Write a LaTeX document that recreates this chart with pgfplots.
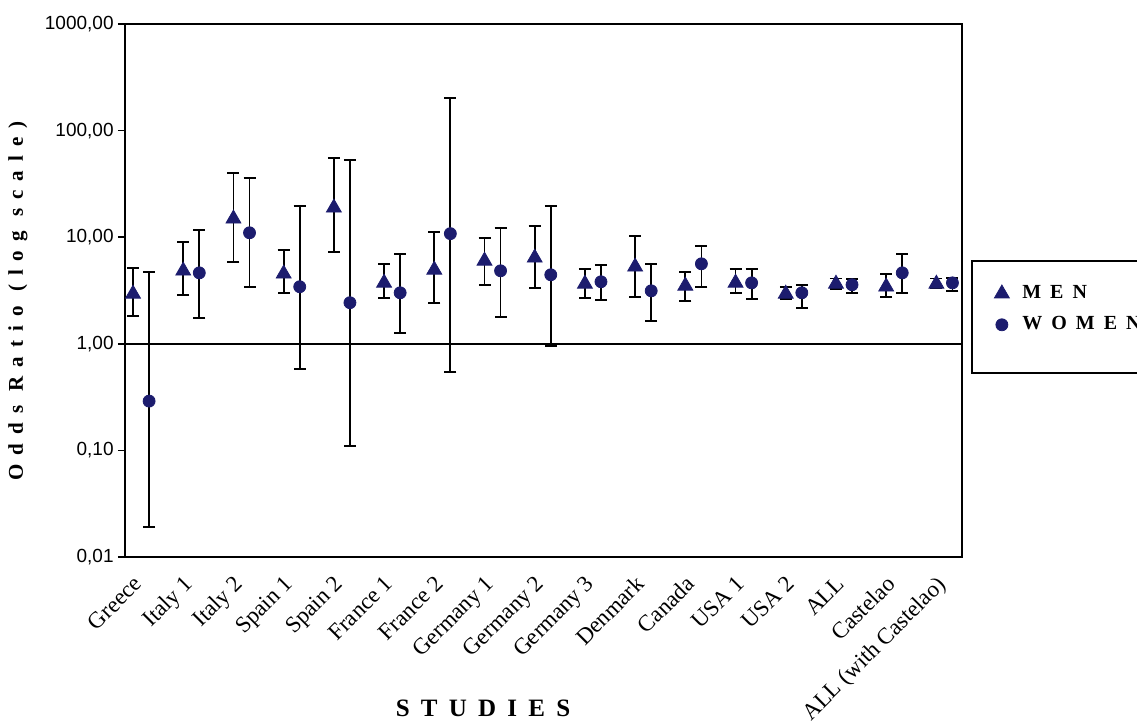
\documentclass[border=0pt]{standalone}
\usepackage{fontspec}
\usepackage{pgfplots}
\usepackage{pgfplotstable}
\pgfplotsset{compat=1.18}
\setmainfont{Liberation Serif}
\newfontfamily\ticfont{Liberation Sans}
\newfontfamily\spc[LetterSpace=45]{Liberation Serif}
\newfontfamily\spcy[LetterSpace=43]{Liberation Serif}
\definecolor{navy}{RGB}{28,28,110}

\pgfplotstableread{
x y lo hi
0 2.94 1.83 5.16
1 4.84 2.88 9.06
2 14.9 5.88 40.2
3 4.54 3.01 7.6
4 18.9 7.3 55.6
5 3.73 2.7 5.63
6 4.94 2.42 11.2
7 6.0 3.58 9.87
8 6.41 3.35 12.8
9 3.65 2.7 5.05
10 5.28 2.76 10.3
11 3.5 2.53 4.74
12 3.73 3.01 5.05
13 2.94 2.64 3.43
14 3.65 3.27 4.1
15 3.43 2.76 4.54
16 3.65 3.3 4.1
}\men

\pgfplotstableread{
x y lo hi
0.32 0.29 0.019 4.74
1.32 4.63 1.75 11.7
2.32 11.0 3.43 36
3.32 3.43 0.58 19.7
4.32 2.43 0.11 53.2
5.32 3.01 1.27 6.98
6.32 10.8 0.546 203
7.32 4.84 1.79 12.3
8.32 4.44 0.96 19.7
9.32 3.82 2.59 5.51
10.32 3.14 1.64 5.63
11.32 5.63 3.43 8.3
12.32 3.73 2.64 5.05
13.32 3.01 2.18 3.58
14.32 3.58 3.01 4.07
15.32 4.63 3.01 6.98
16.32 3.73 3.14 4.16
}\women

\begin{document}
\begin{tikzpicture}
\begin{axis}[
  at={(62.5pt,83.5pt)}, anchor=south west,
  scale only axis, width=418.5pt, height=266.5pt,
  ymode=log, ymin=0.01, ymax=1000,
  xmin=-0.16, xmax=16.51,
  axis line style={black, line width=0.75pt},
  ytick={0.01,0.1,1,10,100,1000},
  yticklabels={{0,01},{0,10},{1,00},{10,00},{100,00},{1000,00}},
  yticklabel style={font=\ticfont\fontsize{9.5}{10}\selectfont, inner sep=2pt},
  ytick pos=left, tick align=outside, major tick length=3.5pt,
  ytick style={black, line width=0.75pt},
  yminorticks=false,
  xtick={0.32,1.32,2.32,3.32,4.32,5.32,6.32,7.32,8.32,9.32,10.32,11.32,12.32,13.32,14.32,15.32,16.32},
  xticklabels={Greece,Italy 1,Italy 2,Spain 1,Spain 2,France 1,France 2,Germany 1,Germany 2,Germany 3,Denmark,Canada,USA 1,USA 2,ALL,Castelao,ALL (with Castelao)},
  xticklabel style={rotate=45, anchor=north east, font=\fontsize{11.5}{12}\selectfont, inner sep=0pt, yshift=2.5pt, xshift=-9.5pt},
  xtick style={draw=none},
  legend style={at={(1.012,0.5553)}, anchor=north west, draw=none, fill=none,
    inner xsep=11pt, inner ysep=11.8pt, row sep=7.5pt,
    nodes={inner sep=0pt, anchor=west}, font=\spc\bfseries\fontsize{10}{11}\selectfont},
  legend cell align=left,
]
\addplot[black, line width=0.75pt, forget plot] coordinates {(-0.16,1) (16.51,1)};
\addplot[only marks, mark=triangle*, mark size=4.3pt, color=navy,
  error bars/.cd, y dir=both, y explicit,
  error bar style={black, line width=0.9pt},
  error mark options={rotate=90, black, line width=0.9pt, mark size=3pt}]
  table[x=x, y=y, y error plus expr=\thisrow{hi}-\thisrow{y}, y error minus expr=\thisrow{y}-\thisrow{lo}] {\men};
\addlegendentry{\hspace{6.5pt}MEN}
\addplot[only marks, mark=*, mark size=3pt, color=navy,
  error bars/.cd, y dir=both, y explicit,
  error bar style={black, line width=0.9pt},
  error mark options={rotate=90, black, line width=0.9pt, mark size=3pt}]
  table[x=x, y=y, y error plus expr=\thisrow{hi}-\thisrow{y}, y error minus expr=\thisrow{y}-\thisrow{lo}] {\women};
\addlegendentry{\hspace{6.5pt}WOMEN}
\end{axis}
\draw[black, line width=0.75pt] (486pt,231.5pt) rectangle (620pt,175.5pt);
\node[rotate=90, font=\spcy\bfseries\fontsize{10.5}{11}\selectfont] at (9pt,211.5pt) {Odds Ratio (log scale)};
\node[font=\spc\bfseries\fontsize{12.5}{13}\selectfont] at (241.5pt,8pt) {STUDIES};
\pgfresetboundingbox
\useasboundingbox (0,0) rectangle (568.5pt,362pt);
\end{tikzpicture}
\end{document}
